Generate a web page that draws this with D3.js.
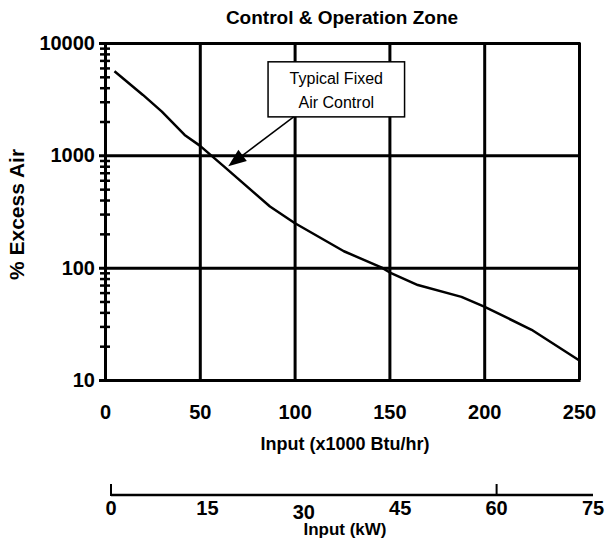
<!DOCTYPE html>
<html>
<head>
<meta charset="utf-8">
<script src="https://cdn.jsdelivr.net/npm/d3@7"></script>
<style>
  body { margin: 0; background: #fff; }
  svg text { font-family: "Liberation Sans", Arial, sans-serif; }
</style>
</head>
<body>
<div id="plot"></div>
<script>
var width = 607;
var height = 540;

// plot area
var plot_l = 105, plot_r = 579, plot_t = 43, plot_b = 380;

// curve
var input_btu = [5, 20, 30, 42, 50, 63, 87, 100, 126, 146, 150, 165, 188, 200, 225, 250];
var excess_air = [5600, 3450, 2450, 1520, 1220, 790, 350, 250, 140, 100, 91, 70, 55, 45, 28, 15];

var btu_ticks = [0, 50, 100, 150, 200, 250];
var kw_ticks = [0, 15, 30, 45, 60, 75];
var kw_marks = [0, 60];
var y_major = [10, 100, 1000, 10000];
var y_minor = [];
[10, 100, 1000].forEach(function(d) {
    for (var k = 2; k <= 9; k++) y_minor.push(d * k);
});

// annotation in data units
var note_lines = ['Typical Fixed', 'Air Control'];
var note_box = { x0: 86, x1: 158, y0: 6800, y1: 2200 };
var note_arrow = { x0: 99.5, y0: 2200, x1: 65, y1: 800 };

var canvas = d3.select('#plot')
    .append('svg')
    .attr('width', width)
    .attr('height', height);

var x_scale = d3.scaleLinear().domain([0, 250]).range([plot_l, plot_r]);
var y_scale = d3.scaleLog().domain([10, 10000]).range([plot_b, plot_t]);
var kw_scale = d3.scaleLinear().domain([0, 75]).range([111, 593]);

// title
canvas.append('text')
    .attr('x', (plot_l + plot_r) / 2)
    .attr('y', 24)
    .attr('text-anchor', 'middle')
    .attr('font-size', 19)
    .attr('font-weight', 'bold')
    .text('Control & Operation Zone');

// vertical grid lines incl. borders
var x_axis = d3.axisBottom(x_scale)
    .tickValues(btu_ticks)
    .tickSize(-(plot_b - plot_t))
    .tickPadding(25)
    .tickFormat(d3.format('d'));

canvas.append('g')
    .attr('class', 'x-axis')
    .attr('transform', 'translate(0,' + plot_b + ')')
    .call(x_axis)
    .call(function(g) {
        g.select('.domain').remove();
        g.selectAll('.tick line').attr('stroke', '#000').attr('stroke-width', 3);
        g.selectAll('.tick text')
            .attr('fill', '#000')
            .attr('font-size', 20)
            .attr('font-weight', 'bold')
            .attr('font-family', '"Liberation Sans", Arial, sans-serif');
    });

// horizontal major lines with labels
var y_axis = d3.axisLeft(y_scale)
    .tickValues(y_major)
    .tickSize(6)
    .tickPadding(4)
    .tickFormat(d3.format('d'));

canvas.append('g')
    .attr('class', 'y-axis')
    .attr('transform', 'translate(' + plot_l + ',0)')
    .call(y_axis)
    .call(function(g) {
        g.select('.domain').remove();
        g.selectAll('.tick line')
            .attr('x2', plot_r - plot_l + 1.5)
            .attr('x1', -6)
            .attr('stroke', '#000')
            .attr('stroke-width', 3);
        g.selectAll('.tick text')
            .attr('fill', '#000')
            .attr('x', -10)
            .attr('font-size', 20)
            .attr('font-weight', 'bold')
            .attr('font-family', '"Liberation Sans", Arial, sans-serif');
    });

// minor ticks crossing the left axis
var minor_l = d3.axisLeft(y_scale).tickValues(y_minor).tickSize(5).tickFormat('');
var minor_r = d3.axisRight(y_scale).tickValues(y_minor).tickSize(5).tickFormat('');
[minor_l, minor_r].forEach(function(ax) {
    canvas.append('g')
        .attr('class', 'y-minor')
        .attr('transform', 'translate(' + plot_l + ',0)')
        .call(ax)
        .call(function(g) {
            g.select('.domain').remove();
            g.selectAll('.tick line').attr('stroke', '#000').attr('stroke-width', 2.5);
        });
});

// y title
canvas.append('text')
    .attr('transform', 'translate(24,' + ((plot_t + plot_b) / 2 + 3) + ') rotate(-90)')
    .attr('text-anchor', 'middle')
    .attr('font-size', 21)
    .attr('font-weight', 'bold')
    .text('% Excess Air');

// x title
canvas.append('text')
    .attr('x', (plot_l + plot_r) / 2 + 3)
    .attr('y', 450)
    .attr('text-anchor', 'middle')
    .attr('font-size', 18)
    .attr('font-weight', 'bold')
    .text('Input (x1000 Btu/hr)');

// curve
var line_gen = d3.line()
    .x(function(d) { return x_scale(d[0]); })
    .y(function(d) { return y_scale(d[1]); });

canvas.append('path')
    .datum(d3.zip(input_btu, excess_air))
    .attr('d', line_gen)
    .attr('fill', 'none')
    .attr('stroke', '#000')
    .attr('stroke-width', 2.5)
    .attr('stroke-linejoin', 'round');

// annotation
canvas.append('rect')
    .attr('x', x_scale(note_box.x0))
    .attr('y', y_scale(note_box.y0))
    .attr('width', x_scale(note_box.x1) - x_scale(note_box.x0))
    .attr('height', y_scale(note_box.y1) - y_scale(note_box.y0))
    .attr('fill', '#fff')
    .attr('stroke', '#000')
    .attr('stroke-width', 1.5);

canvas.selectAll('text.note')
    .data(note_lines)
    .enter()
    .append('text')
    .attr('class', 'note')
    .attr('x', x_scale((note_box.x0 + note_box.x1) / 2))
    .attr('y', function(d, i) { return y_scale(note_box.y0) + 22 + i * 24; })
    .attr('text-anchor', 'middle')
    .attr('font-size', 16)
    .text(function(d) { return d; });

var ax0 = x_scale(note_arrow.x0), ay0 = y_scale(note_arrow.y0);
var ax1 = x_scale(note_arrow.x1), ay1 = y_scale(note_arrow.y1);
var ang = Math.atan2(ay1 - ay0, ax1 - ax0);
var head_len = 18, head_w = 7;
var bx = ax1 - head_len * Math.cos(ang), by = ay1 - head_len * Math.sin(ang);

canvas.append('line')
    .attr('x1', ax0).attr('y1', ay0)
    .attr('x2', bx).attr('y2', by)
    .attr('stroke', '#000')
    .attr('stroke-width', 1.5);

canvas.append('path')
    .attr('d', 'M' + ax1 + ',' + ay1 +
        'L' + (bx + head_w * Math.sin(ang)) + ',' + (by - head_w * Math.cos(ang)) +
        'L' + (bx - head_w * Math.sin(ang)) + ',' + (by + head_w * Math.cos(ang)) + 'Z')
    .attr('fill', '#000');

// secondary kW axis
var kw_y = 495;
canvas.append('line')
    .attr('x1', kw_scale(0)).attr('x2', kw_scale(75))
    .attr('y1', kw_y).attr('y2', kw_y)
    .attr('stroke', '#000')
    .attr('stroke-width', 2.5);

canvas.selectAll('line.kw-mark')
    .data(kw_marks)
    .enter()
    .append('line')
    .attr('class', 'kw-mark')
    .attr('x1', function(d) { return kw_scale(d); })
    .attr('x2', function(d) { return kw_scale(d); })
    .attr('y1', kw_y - 11)
    .attr('y2', kw_y + 1)
    .attr('stroke', '#000')
    .attr('stroke-width', 2);

canvas.selectAll('text.kw-label')
    .data(kw_ticks)
    .enter()
    .append('text')
    .attr('class', 'kw-label')
    .attr('x', function(d) { return kw_scale(d); })
    .attr('y', function(d) { return d === 30 ? kw_y + 24 : kw_y + 20; })
    .attr('text-anchor', 'middle')
    .attr('font-size', 20)
    .attr('font-weight', 'bold')
    .text(function(d) { return d; });

canvas.append('text')
    .attr('x', (plot_l + plot_r) / 2 + 3)
    .attr('y', 535)
    .attr('text-anchor', 'middle')
    .attr('font-size', 17)
    .attr('font-weight', 'bold')
    .text('Input (kW)');
</script>
</body>
</html>
